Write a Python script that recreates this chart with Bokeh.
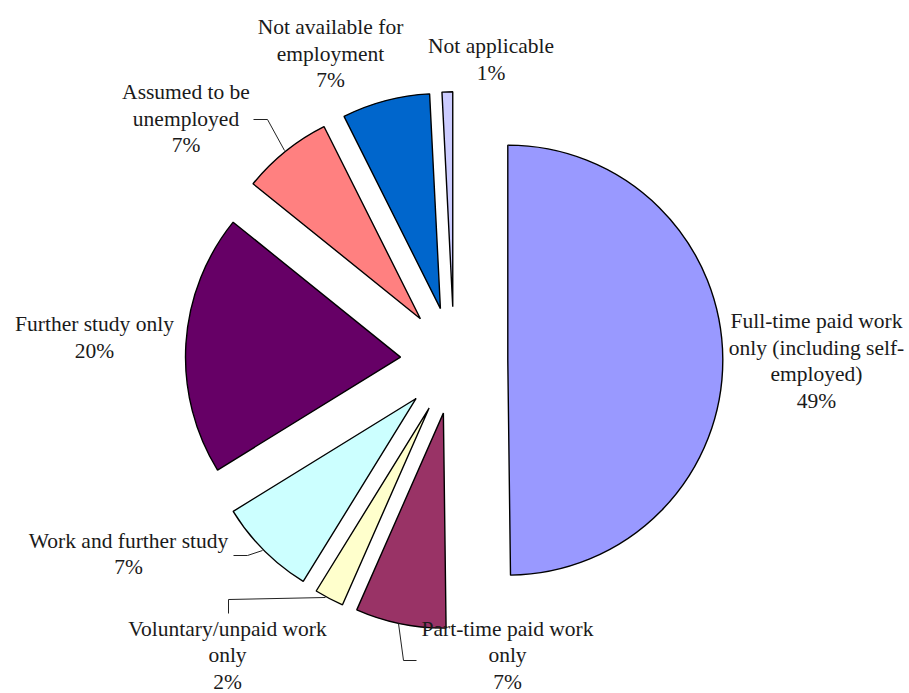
import numpy as np
from bokeh.plotting import figure
from bokeh.models import Range1d, ColumnDataSource
from bokeh.embed import file_html
from bokeh.resources import INLINE
from bokeh.core.properties import value

# ---- data (clockwise from 12 o'clock) ----
categories = [
    "Full-time paid work only (including self-employed)",
    "Part-time paid work only",
    "Voluntary/unpaid work only",
    "Work and further study",
    "Further study only",
    "Assumed to be unemployed",
    "Not available for employment",
    "Not applicable",
]
shares = [49.8, 6.8, 2.2, 7.4, 19.6, 6.8, 6.6, 0.8]
pct_labels = ["49%", "7%", "2%", "7%", "20%", "7%", "7%", "1%"]
label_lines = [
    ["Full-time paid work", "only (including self-", "employed)"],
    ["Part-time paid work", "only"],
    ["Voluntary/unpaid work", "only"],
    ["Work and further study"],
    ["Further study only"],
    ["Assumed to be", "unemployed"],
    ["Not available for", "employment"],
    ["Not applicable"],
]
colors = ["#9999FF", "#993366", "#FFFFCC", "#CCFFFF",
          "#660066", "#FF8080", "#0066CC", "#CCCCFF"]

# ---- layout (screen pixels) ----
W, H = 909, 693
CX, CY = 453.6, 360.0
R = 215.0
EXPLODE = 53.7
LINE_H = 26.6
FONT = "Liberation Serif"
FSIZE = "21.5px"
Y_SHIFT = -7
# label anchor: (center x, baseline of first line) in screen px
label_pos = [(816, 327.5), (507, 635), (227, 635), (128, 547),
             (94, 330.5), (185.5, 98.5), (330, 33.5), (490.5, 52.5)]
leaders = [
    None,
    [(398, 623), (403, 660), (416, 660)],
    [(228, 613), (228, 599), (325, 597)],
    [(233, 555), (247, 555), (262, 550)],
    None,
    [(253, 119), (267, 119), (284, 150)],
    None,
    None,
]

vals = np.array(shares, dtype=float)
frac = vals / vals.sum()
cum = np.concatenate([[0.0], np.cumsum(frac)])
th0 = 2 * np.pi * cum[:-1]
th1 = 2 * np.pi * cum[1:]
mid = (th0 + th1) / 2
cy_data = H - CY
xs = CX + EXPLODE * np.sin(mid)
ys = cy_data + EXPLODE * np.cos(mid)

src = ColumnDataSource(dict(
    x=xs, y=ys,
    start=np.pi / 2 - th1, end=np.pi / 2 - th0,
    color=colors, name=categories,
))

p = figure(width=W, height=H, output_backend="svg", toolbar_location=None,
           x_range=Range1d(0, W), y_range=Range1d(0, H),
           min_border=0, outline_line_color=None)
p.axis.visible = False
p.grid.visible = False
p.background_fill_color = "white"
p.border_fill_color = "white"

p.wedge(x="x", y="y", radius=R, start_angle="start", end_angle="end",
        direction="anticlock", fill_color="color", line_color="black",
        line_width=1.4, source=src)

# leader lines
for ld in leaders:
    if ld is None:
        continue
    p.line([a for a, b in ld], [H - b for a, b in ld],
           line_color="#222222", line_width=1)

# labels
tx, ty, tt = [], [], []
for (lx, ly), lines, pc in zip(label_pos, label_lines, pct_labels):
    for k, s in enumerate(lines + [pc]):
        tx.append(lx)
        ty.append(H - (ly + Y_SHIFT + k * LINE_H))
        tt.append(s)
p.text(x=tx, y=ty, text=tt, text_align="center", text_baseline="alphabetic",
       text_font=value(FONT), text_font_size=FSIZE, text_color="#1a1a1a")

open("out.html", "w").write(file_html(p, INLINE))
